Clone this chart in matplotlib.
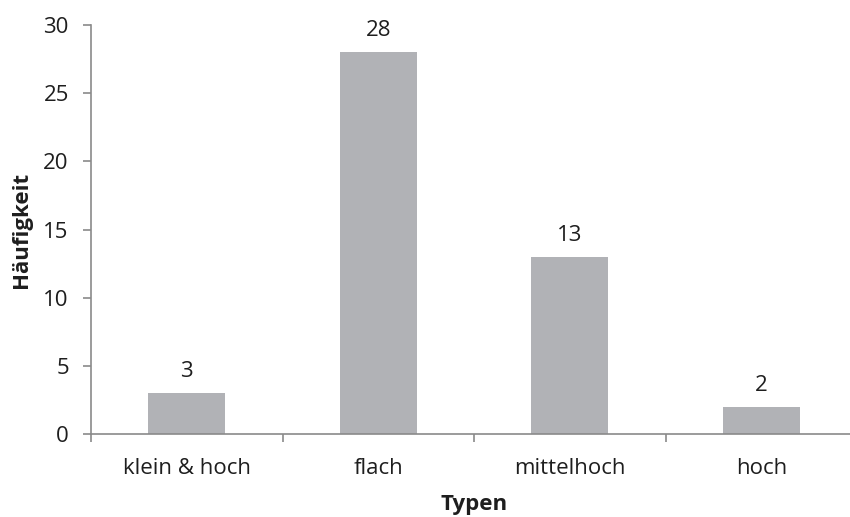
import matplotlib
matplotlib.use("Agg")
import matplotlib.pyplot as plt

categories = ["klein & hoch", "flach", "mittelhoch", "hoch"]
counts = [3, 28, 13, 2]
y_ticks = [0, 5, 10, 15, 20, 25, 30]

plt.rcParams["font.family"] = ["Open Sans", "DejaVu Sans"]

text_color = "#1e1e1e"
axis_color = "#8a8a8a"
bar_color = "#b1b2b6"
fs = 16

fig = plt.figure(figsize=(8.5, 5.17), dpi=100)
ax = fig.add_axes([91 / 850, 83 / 517, 766 / 850, 409 / 517])

x = list(range(len(categories)))
bars = ax.bar(x, counts, width=0.40, color=bar_color, zorder=2)

for xi, v in zip(x, counts):
    ax.annotate(str(v), (xi, v), xytext=(0, 8), textcoords="offset points",
                ha="center", va="bottom", fontsize=fs, color=text_color)

ax.set_xlim(-0.5, len(categories) - 0.5)
ax.set_ylim(0, 30)
ax.set_yticks(y_ticks)
ax.tick_params(axis="y", direction="out", length=6, width=1.2, color=axis_color,
               labelsize=fs, labelcolor=text_color, pad=10)

# category ticks sit on the boundaries between bars, labels in the middle
ax.set_xticks([i - 0.5 for i in range(len(categories) + 1)])
ax.set_xticklabels([])
ax.set_xticks(x, minor=True)
ax.set_xticklabels(categories, minor=True)
ax.tick_params(axis="x", which="major", direction="out", length=6, width=1.2,
               color=axis_color)
ax.tick_params(axis="x", which="minor", length=0, labelsize=fs,
               labelcolor=text_color, pad=17)

for side in ("top", "right"):
    ax.spines[side].set_visible(False)
for side in ("left", "bottom"):
    ax.spines[side].set_color(axis_color)
    ax.spines[side].set_linewidth(1.2)

ax.set_xlabel("Typen", fontsize=fs, fontweight="bold", color=text_color, labelpad=11)
ax.set_ylabel("Häufigkeit", fontsize=fs, fontweight="bold", color=text_color, labelpad=8)

fig.savefig("out.png", dpi=100)
